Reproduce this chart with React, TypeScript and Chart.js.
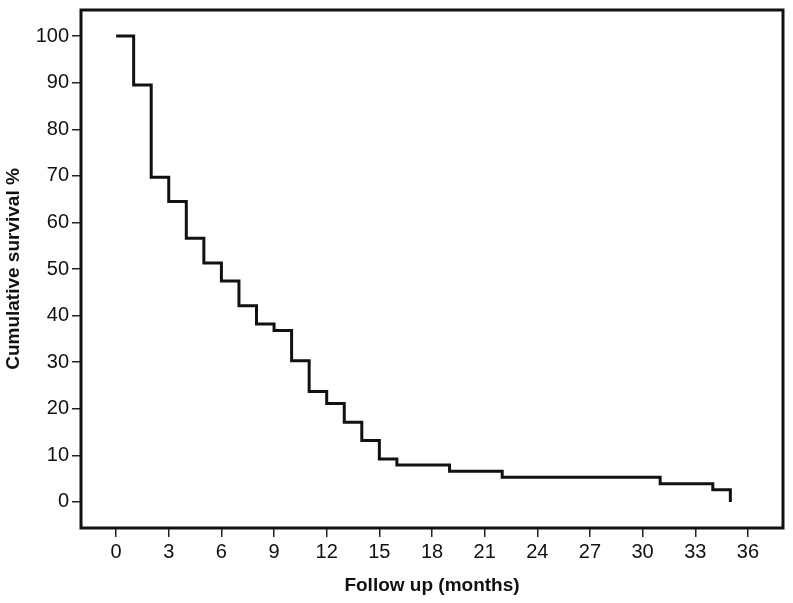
import React, { useEffect, useRef } from "react";
import { Chart, registerables } from "chart.js";

Chart.register(...registerables);

const months = [0, 1, 2, 3, 4, 5, 6, 7, 8, 9, 10, 11, 12, 13, 14, 15, 16, 19, 22, 31, 34, 35];
const survival = [100, 89.5, 69.7, 64.5, 56.6, 51.3, 47.4, 42.1, 38.2, 36.8, 30.3, 23.7, 21.1, 17.1, 13.2, 9.2, 7.9, 6.6, 5.3, 3.9, 2.6, 0];
const xTicks = [0, 3, 6, 9, 12, 15, 18, 21, 24, 27, 30, 33, 36];
const yTicks = [0, 10, 20, 30, 40, 50, 60, 70, 80, 90, 100];
const xTitle = "Follow up (months)";
const yTitle = "Cumulative survival %";

const FONT = "'Liberation Sans', Arial, sans-serif";

const frame = {
  id: "frame",
  afterDatasetsDraw(chart: any) {
    const { ctx, chartArea } = chart;
    ctx.save();
    ctx.strokeStyle = "#111";
    ctx.lineWidth = 3;
    ctx.strokeRect(chartArea.left, chartArea.top, chartArea.right - chartArea.left, chartArea.bottom - chartArea.top);
    ctx.restore();
  },
};

export default function App() {
  const ref = useRef<HTMLCanvasElement | null>(null);
  useEffect(() => {
    if (!ref.current) return;
    const chart = new Chart(ref.current, {
      type: "line",
      data: {
        datasets: [
          {
            data: months.map((m, i) => ({ x: m, y: survival[i] })),
            stepped: "before",
            borderColor: "#111",
            borderWidth: 3,
            pointRadius: 0,
            fill: false,
            borderJoinStyle: "miter",
          } as any,
        ],
      },
      options: {
        animation: false,
        responsive: false,
        maintainAspectRatio: false,
        layout: { padding: { top: 10, right: 10, left: 0, bottom: 0 } },
        plugins: { legend: { display: false }, tooltip: { enabled: false } },
        scales: {
          x: {
            type: "linear",
            min: -2,
            max: 38,
            afterBuildTicks: (s: any) => {
              s.ticks = xTicks.map((v) => ({ value: v }));
            },
            afterFit: (s: any) => {
              s.height = 75;
              s.paddingLeft = 0;
              s.paddingRight = 0;
            },
            border: { display: false },
            grid: { drawOnChartArea: false, drawTicks: true, tickLength: 9, lineWidth: 1.5, color: "#222" },
            ticks: { color: "#111", font: { family: FONT, size: 20, lineHeight: 1 }, padding: 5, maxRotation: 0, autoSkip: false, callback: (v: any) => String(v) },
            title: { display: true, text: xTitle, color: "#111", font: { family: FONT, size: 19, weight: "bold" }, padding: { top: 0, bottom: 6 } },
          },
          y: {
            type: "linear",
            min: -5.6,
            max: 105.6,
            afterBuildTicks: (s: any) => {
              s.ticks = yTicks.map((v) => ({ value: v }));
            },
            afterFit: (s: any) => {
              s.width = 81;
              s.paddingTop = 0;
              s.paddingBottom = 0;
            },
            border: { display: false },
            grid: { drawOnChartArea: false, drawTicks: true, tickLength: 9, lineWidth: 1.5, color: "#222" },
            ticks: { color: "#111", font: { family: FONT, size: 20, lineHeight: 1 }, padding: 3, autoSkip: false, callback: (v: any) => String(v) },
            title: { display: true, text: yTitle, color: "#111", font: { family: FONT, size: 19, weight: "bold" }, padding: { top: 2, bottom: 0 } },
          },
        },
      },
      plugins: [frame],
    });
    return () => chart.destroy();
  }, []);
  return (
    <div style={{ position: "absolute", left: 0, top: 0, width: 793, height: 603, background: "#fff" }}>
      <canvas ref={ref} width={793} height={603} />
    </div>
  );
}
